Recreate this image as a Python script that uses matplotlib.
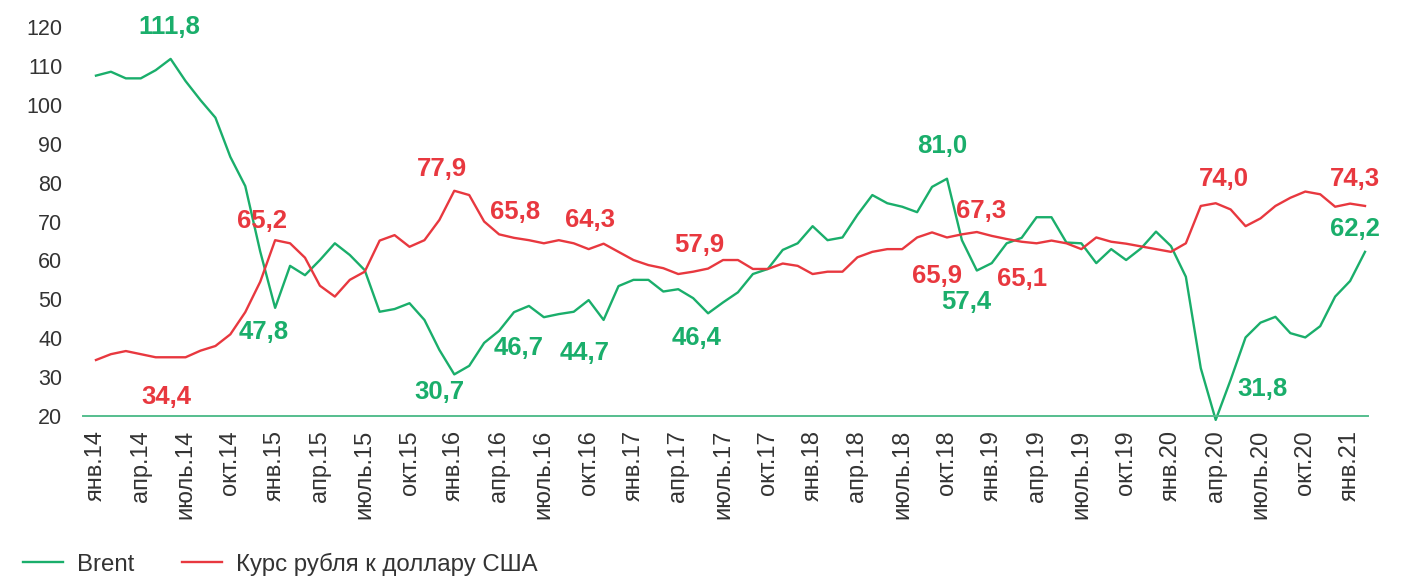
import matplotlib
matplotlib.use("Agg")
import matplotlib.pyplot as plt
import numpy as np

plt.rcParams['font.family'] = ['Liberation Sans', 'DejaVu Sans']

# Данные по месяцам: янв.2014 - фев.2021
brent = [
    107.5, 108.5, 106.8, 106.8, 108.9, 111.8, 106.1, 101.2, 96.7, 86.6, 79.1, 62.3,  # 2014
    47.8, 58.6, 56.2, 60.1, 64.4, 61.4, 57.5, 46.8, 47.5, 49.0, 44.7, 37.0,  # 2015
    30.7, 32.9, 38.8, 41.9, 46.7, 48.3, 45.4, 46.2, 46.8, 49.8, 44.7, 53.4,  # 2016
    55.0, 55.0, 52.0, 52.6, 50.3, 46.4, 49.2, 51.8, 56.5, 57.8, 62.7, 64.4,  # 2017
    68.8, 65.2, 65.9, 71.7, 76.8, 74.7, 73.8, 72.4, 78.9, 81.0, 65.2, 57.4,  # 2018
    59.3, 64.4, 65.8, 71.1, 71.1, 64.6, 64.4, 59.3, 62.9, 60.1, 63.1, 67.4,  # 2019
    63.7, 55.8, 32.3, 19.0, 29.3, 40.2, 44.0, 45.5, 41.3, 40.2, 43.1, 50.7,  # 2020
    54.7, 62.2,  # 2021
]
rub = [
    34.4, 35.9, 36.7, 35.9, 35.1, 35.1, 35.1, 36.8, 38.0, 41.0, 46.7, 54.5,  # 2014
    65.2, 64.4, 60.7, 53.5, 50.7, 55.0, 57.1, 65.1, 66.5, 63.5, 65.2, 70.4,  # 2015
    77.9, 76.8, 70.0, 66.7, 65.8, 65.2, 64.4, 65.2, 64.4, 62.9, 64.3, 62.2,  # 2016
    60.1, 58.8, 58.0, 56.5, 57.1, 57.9, 60.1, 60.1, 57.8, 57.8, 59.2, 58.6,  # 2017
    56.5, 57.1, 57.1, 60.8, 62.2, 62.9, 62.9, 65.9, 67.2, 65.9, 66.7, 67.3,  # 2018
    66.3, 65.5, 64.8, 64.4, 65.1, 64.4, 62.9, 65.9, 64.8, 64.3, 63.6, 62.9,  # 2019
    62.2, 64.4, 74.0, 74.7, 73.1, 68.8, 70.8, 74.0, 76.1, 77.7, 77.0, 73.8,  # 2020
    74.6, 74.0,  # 2021
]

months = ["янв", "апр", "июль", "окт"]
years = ["14", "15", "16", "17", "18", "19", "20", "21"]
tick_labels = [f"{m}.{y}" for y in years for m in months][:29]

# подписи значений: текст, позиция (индекс месяца, значение), ряд
label_text = ["111,8", "47,8", "30,7", "46,7", "44,7", "46,4", "81,0", "57,4", "31,8", "62,2",
              "34,4", "65,2", "77,9", "65,8", "64,3", "57,9", "65,9", "67,3", "65,1", "74,0", "74,3"]
label_x = [4.9, 11.25, 23.0, 28.3, 32.7, 40.2, 56.7, 58.3, 78.1, 84.3,
           4.7, 11.1, 23.2, 28.1, 33.1, 40.4, 56.3, 59.3, 62.0, 75.55, 84.3]
label_y = [120.0, 41.6, 26.2, 37.5, 36.2, 40.1, 89.4, 49.3, 26.9, 68.1,
           24.9, 70.1, 83.5, 72.4, 70.4, 64.0, 56.0, 72.7, 55.2, 80.9, 80.9]
label_series = ["b"] * 10 + ["r"] * 11

green = "#1aae6b"
red = "#e8383f"

fig = plt.figure(figsize=(14.21, 5.77), dpi=100)
ax = fig.add_axes([0.0584, 0.2790, 0.9043, 0.6742])

x = np.arange(len(brent))
ax.plot(x, brent, color=green, lw=1.7, clip_on=False, label="Brent")
ax.plot(x, rub, color=red, lw=1.7, clip_on=False, label="Курс рубля к доллару США")

for t, lx, ly, s in zip(label_text, label_x, label_y, label_series):
    ax.text(lx, ly, t, color=green if s == "b" else red, fontsize=18.5,
            fontweight="bold", ha="center", va="center", clip_on=False)

ax.set_xlim(-0.87, 85.2)
ax.set_ylim(20, 120)
ax.set_yticks(range(20, 121, 10))
ax.set_xticks(range(0, 85, 3))
ax.set_xticklabels(tick_labels, rotation=90)
ax.tick_params(axis="both", length=0, labelsize=15.5, labelcolor="#333333")
ax.tick_params(axis="x", pad=10, labelsize=17)
ax.tick_params(axis="y", pad=15)

for sp in ["top", "right", "left"]:
    ax.spines[sp].set_visible(False)
ax.spines["bottom"].set_color("#55be8e")
ax.spines["bottom"].set_linewidth(1.4)

fig.legend(loc="center left", bbox_to_anchor=(0.0162, 0.0225), ncol=2, frameon=False,
           fontsize=17.3, handlelength=1.65, handletextpad=0.6, columnspacing=2.0,
           borderpad=0, borderaxespad=0, labelcolor="#333333")

fig.savefig("out.png", dpi=100)
